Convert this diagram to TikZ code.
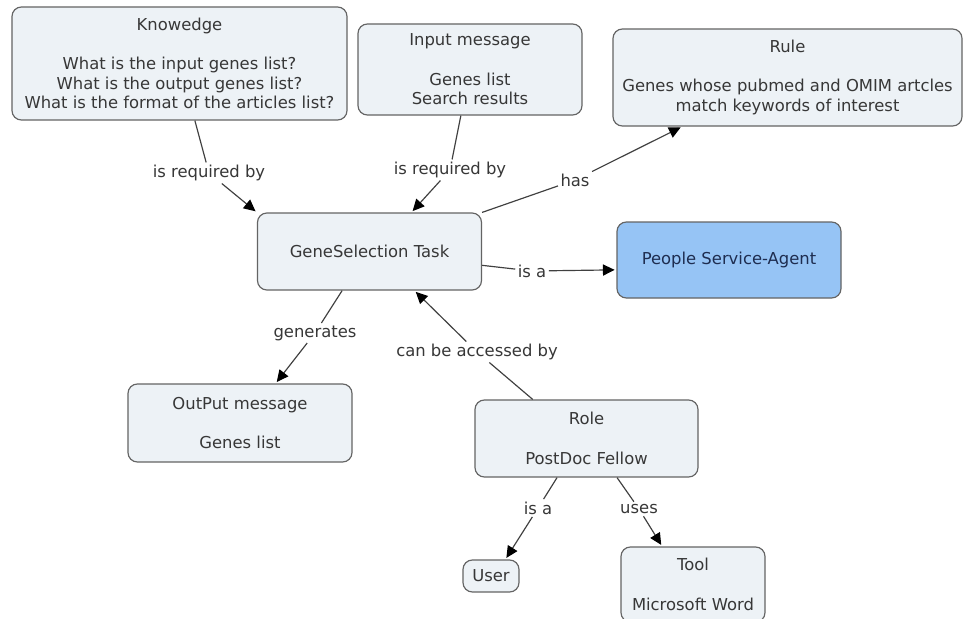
\documentclass[tikz,border=0pt]{standalone}
\usepackage{fontspec}
\setmainfont{DejaVu Sans}
\usetikzlibrary{arrows.meta}
\definecolor{boxfill}{RGB}{237,242,246}
\definecolor{agentfill}{RGB}{150,196,245}
\definecolor{boxline}{RGB}{100,100,100}
\definecolor{txt}{RGB}{55,55,55}
\definecolor{agenttxt}{RGB}{30,45,80}
\begin{document}
\begin{tikzpicture} [x=0.03cm, y=-0.03cm,
    concept/.style={draw=boxline, line width=1pt, fill=boxfill, rounded corners=8pt,
      align=center, text=txt, inner sep=2pt, font={\fontsize{14}{16.6}\selectfont}},
    linkname/.style={fill=white, inner sep=2pt, text=txt, font={\fontsize{14}{16.6}\selectfont}},
    conn/.style={draw=black!75, line width=1pt},
    tip/.style={conn, -{Triangle[length=10pt,width=9.5pt,color=black]}, shorten >=1.5pt}]
    \useasboundingbox [fill=white] (0,0) rectangle (964,618);

    \node [concept, minimum width=10.05cm, minimum height=3.39cm] (know) at (179.5,63.5)
      {Knowedge\\[17pt]What is the input genes list?\\What is the output genes list?\\What is the format of the articles list?};
    \node [concept, minimum width=6.72cm, minimum height=2.73cm] (input) at (470,69.5)
      {Input message\\[17pt]Genes list\\Search results};
    \node [concept, minimum width=10.47cm, minimum height=2.91cm] (rule) at (787.5,77.5)
      {Rule\\[17pt]Genes whose pubmed and OMIM artcles\\match keywords of interest};
    \node [concept, minimum width=6.72cm, minimum height=2.31cm] (task) at (369.5,251.5)
      {GeneSelection Task};
    \node [concept, fill=agentfill, text=agenttxt, minimum width=6.72cm, minimum height=2.28cm] (agent) at (729,260)
      {People Service-Agent};
    \node [concept, minimum width=6.72cm, minimum height=2.34cm] (out) at (240,423)
      {OutPut message\\[17pt]Genes list};
    \node [concept, minimum width=6.69cm, minimum height=2.31cm] (role) at (586.5,438.5)
      {Role\\[17pt]PostDoc Fellow};
    \node [concept, minimum width=1.68cm, minimum height=0.96cm] (user) at (491,576)
      {User};
    \node [concept, minimum width=4.32cm, minimum height=2.25cm] (tool) at (693,584.5)
      {Tool\\[17pt]Microsoft Word};

    \node [linkname] (reqa) at (209,173) {is required by};
    \node [linkname] (reqb) at (450,170) {is required by};
    \node [linkname] (has) at (575,180) {has};
    \node [linkname] (isa) at (532,271) {is a};
    \node [linkname] (gen) at (315,333) {generates};
    \node [linkname] (acc) at (477,352) {can be accessed by};
    \node [linkname] (isuser) at (538,508) {is a};
    \node [linkname] (uses) at (639,509) {uses};

    \draw [conn] (know) -- (reqa);
    \draw [tip] (reqa) -- (task.north west);
    \draw [conn] (input) -- (reqb);
    \draw [tip] (reqb) -- (task.43);
    \draw [conn] (task.north east) -- (has);
    \draw [tip] (has) -- (rule.205);
    \draw [conn] (task.-7) -- (isa);
    \draw [tip] (isa) -- (agent.185);
    \draw [conn] (task.235) -- (gen);
    \draw [tip] (gen) -- (out.48);
    \draw [conn] (role.144) -- (acc);
    \draw [tip] (acc) -- (task.-41);
    \draw [conn] (role.233) -- (isuser);
    \draw [tip] (isuser) -- (user.49);
    \draw [conn] (role.-52) -- (uses);
    \draw [tip] (uses) -- (tool.129);
  \end{tikzpicture}
\end{document}
